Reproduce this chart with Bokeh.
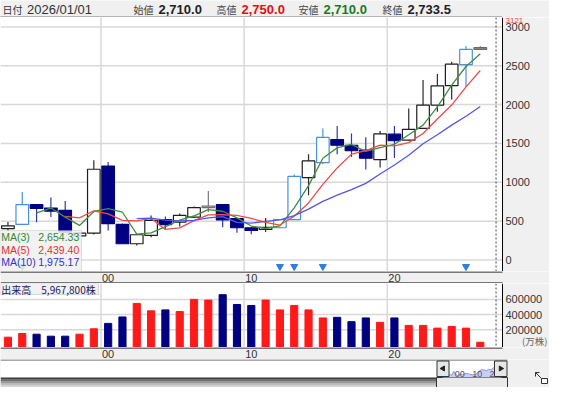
import pandas as pd
from bokeh.plotting import figure
from bokeh.layouts import column
from bokeh.models import Range1d, Span, BoxAnnotation, ColumnDataSource
from bokeh.core.properties import value
from bokeh.embed import file_html
from bokeh.resources import INLINE

# ---------------- data ----------------
header_date = "2026/01/01"
opens = [405, 458, 712, 668, 639, 310, 346, 1210, 458, 209, 316, 519, 488, 552, 674, 712, 532, 415, 394, 415,
         519, 1061, 1254, 1551, 1477, 1413, 1293, 1619, 1542, 1693, 1994, 2243, 2515, 2710]
highs = [490, 875, 720, 803, 760, 360, 1284, 1262, 470, 330, 574, 561, 600, 690, 888, 720, 540, 420, 540, 525,
         1099, 1361, 1693, 1723, 1628, 1580, 1660, 1723, 1951, 2316, 2394, 2552, 2755, 2750]
lows = [380, 450, 485, 552, 350, 300, 329, 381, 205, 187, 294, 390, 430, 540, 617, 420, 350, 330, 359, 410,
        515, 832, 1232, 1361, 1326, 1164, 1190, 1314, 1535, 1690, 1907, 2067, 2230, 2710]
closes = [440, 712, 665, 630, 360, 345, 1168, 467, 209, 325, 510, 454, 574, 674, 694, 515, 415, 381, 420, 519,
          1077, 1275, 1577, 1477, 1406, 1310, 1622, 1535, 1681.7, 1992, 2242, 2520, 2709.5, 2733.5]
kinds = ["up", "mark", "down", "down", "down", "up", "up", "down", "down", "up",
         "up", "down", "up", "up", "gray", "down", "down", "down", "up", "mark",
         "mark", "up", "mark", "down", "down", "down", "up", "down", "up", "up",
         "up", "up", "mark", "doji"]
volumes = [103000, 151000, 142000, 116000, 116000, 142000, 213000, 284000, 369000, 547000,
           449000, 462000, 440000, 600000, 591000, 662000, 533000, 520000, 591000, 462000,
           520000, 462000, 356000, 364000, 307000, 356000, 298000, 356000, 258000, 258000,
           222000, 244000, 222000, 36000]
x_ticks = [7, 17, 27]
x_tick_labels = ["00", "10", "20"]
price_ticks = [0, 500, 1000, 1500, 2000, 2500, 3000]
price_max = 3121
vol_ticks = [200000, 400000, 600000]
vol_title = "出来高"
vol_total_text = "5,967,800株"
vol_unit = "(万株)"
ma_periods = [3, 5, 10]
ma_texts = ["2,654.33", "2,439.40", "1,975.17"]
header_names = ["始値", "高値", "安値", "終値"]

# ---------------- layout / style ----------------
W = 549
FRAME_W = 502                      # width of the plotting area left of the axis line
X0, AXIS_X = -0.52, 34.55          # data extent of the plotting area
PX = FRAME_W / (AXIS_X - X0)       # pixels per candle
XEND = X0 + W / PX
H_HEAD, H_MAIN, H_BAND, H_VOL, H_NAV = 17, 254, 12, 64, 28
GRAY = "#f0f0f0"
GRID = "#d8d8d8"
NUM_FONT = "Liberation Sans"
JP_FONT = "Noto Sans CJK JP"
MA_LINE = ["#3f8f3f", "#f04a4a", "#5555e8"]
MA_TEXT = ["#2f8a2f", "#e83030", "#3333c8"]
UP_VOL, DOWN_VOL = "#ff1a1a", "#000080"
body_fill = {"up": "white", "down": "#000080", "mark": "white", "gray": "white", "doji": "#9c9c9c"}
body_line = {"up": "#1e1e1e", "down": "#000080", "mark": "#4a8fe0", "gray": "#6e6e6e", "doji": "#6a6a6a"}
wick_col = {"up": "#2a2a2a", "down": "#2e3aa8", "mark": "#4a8fe0", "gray": "#7a7a7a", "doji": "#6a6a6a"}

n = len(closes)
idx = list(range(n))
xr = Range1d(X0, XEND)
MAIN_Y = (-148, price_max)
VOL_Y = (-33000, 809000)
DOT_X = 34.1
MARK_LEVEL = -84


def fig(height, x_range, y_range, bg):
    p = figure(width=W, height=height, x_range=x_range, y_range=Range1d(*y_range),
               output_backend="svg", toolbar_location=None,
               x_axis_location=None, y_axis_location=None, min_border=0,
               background_fill_color=bg, border_fill_color=bg, outline_line_color=None)
    p.grid.visible = False
    return p


def panel(height, y_range, ticks, labels):
    p = fig(height, xr, y_range, "white")
    # gray axis area right of the axis line
    p.add_layout(BoxAnnotation(left=AXIS_X, fill_color=GRAY, fill_alpha=1, line_color=None, level="underlay"))
    for t in x_ticks:
        p.add_layout(Span(location=t - 0.5, dimension="height", line_color=GRID, line_width=1.5, level="underlay"))
    p.segment(x0=[X0] * len(ticks), x1=[AXIS_X] * len(ticks), y0=ticks, y1=ticks,
              line_color=GRID, line_width=1.5)
    p.add_layout(Span(location=DOT_X, dimension="height", line_color="#444444", line_width=1, line_dash="2 2"))
    p.add_layout(Span(location=AXIS_X, dimension="height", line_color="black", line_width=1))
    p.text(x=[AXIS_X] * len(ticks), y=ticks, text=labels, x_offset=3, text_align="left",
           text_baseline="middle", text_font=value(NUM_FONT), text_font_size="11px", text_color="#333333")
    return p


# ---------------- header ----------------
head = fig(H_HEAD, Range1d(0, W), (0, H_HEAD), GRAY)
head.segment(x0=[0], y0=[0.5], x1=[FRAME_W], y1=[0.5], line_color="black", line_width=1, line_dash="1 1")
header_vals = [opens[-1], highs[-1], lows[-1], closes[-1]]
header_cols = ["#222222", "#e01010", "#1a7a1a", "#222222"]
name_x = [133, 216, 298, 382]
yc = H_HEAD - 8.5
head.text(x=[2], y=[yc], text=["日付"], text_font=value(JP_FONT), text_font_size="10px",
          text_color="#333333", text_baseline="middle")
head.text(x=[26.5], y=[yc], text=[header_date], text_font=value(NUM_FONT), text_font_size="13px",
          text_color="#333333", text_baseline="middle")
head.text(x=name_x, y=[yc] * 4, text=header_names, text_font=value(JP_FONT), text_font_size="10px",
          text_color="#444444", text_baseline="middle")
head.text(x=[x + 25 for x in name_x], y=[yc] * 4, text=[f"{v:,.1f}" for v in header_vals],
          text_font=value(NUM_FONT), text_font_size="13px", text_font_style="bold",
          text_color=header_cols, text_baseline="middle")

# ---------------- main (candles) ----------------
main = panel(H_MAIN, MAIN_Y, price_ticks, [str(t) for t in price_ticks])

src = ColumnDataSource(dict(
    x=idx, o=opens, h=highs, l=lows, c=closes,
    top=[max(a, b) for a, b in zip(opens, closes)],
    bot=[min(a, b) for a, b in zip(opens, closes)],
    fill=[body_fill[k] for k in kinds],
    line=[body_line[k] for k in kinds],
    wick=[wick_col[k] for k in kinds],
))
main.segment(x0="x", y0="h", x1="x", y1="l", line_color="wick", line_width=1.2, source=src)
main.vbar(x="x", top="top", bottom="bot", width=0.88, fill_color="fill", line_color="line",
          line_width=1.2, source=src)

cs = pd.Series(closes, dtype=float)
for per, col in zip(ma_periods, MA_LINE):
    ma = cs.rolling(per).mean()
    xs = [i for i in idx if pd.notna(ma[i])]
    main.line(xs, [ma[i] for i in xs], line_color=col, line_width=1.3)

mark_x = [i for i, k in enumerate(kinds) if k == "mark"]
main.scatter(x=mark_x, y=[MARK_LEVEL] * len(mark_x), marker="inverted_triangle", size=7,
             fill_color="#2f7fe0", line_color="#2f7fe0")

# MA legend box
main.add_layout(BoxAnnotation(left=X0, right=5.14, bottom=MAIN_Y[0], top=381,
                              fill_color=GRAY, fill_alpha=0.85, line_color="#9a9a9a", line_width=1))
leg_y = [294, 129, -32]
main.text(x=[X0 + 0.05] * 3, y=leg_y, text=[f"MA({p})" for p in ma_periods], text_font=value(NUM_FONT),
          text_font_size="10.5px", text_color=MA_TEXT, text_baseline="middle", level="overlay")
main.text(x=[4.98] * 3, y=leg_y, text=ma_texts, text_font=value(NUM_FONT), text_font_size="10.5px",
          text_color=MA_TEXT, text_baseline="middle", text_align="right", level="overlay")
main.text(x=[AXIS_X], y=[price_max], text=[str(price_max)], x_offset=3, text_font=value(NUM_FONT),
          text_font_size="8px", text_color="#e05030", text_baseline="top")


# ---------------- bands ----------------
def band(bottom_line):
    b = fig(H_BAND, xr, (0, H_BAND), GRAY)
    b.text(x=[t - 0.5 for t in x_ticks], y=[H_BAND / 2] * len(x_ticks), text=x_tick_labels,
           x_offset=1, text_align="left", text_baseline="middle", text_font=value(NUM_FONT),
           text_font_size="11px", text_color="#333333")
    b.segment(x0=[X0], x1=[AXIS_X], y0=[H_BAND - 0.5], y1=[H_BAND - 0.5], line_color="black", line_width=1)
    if bottom_line:
        b.segment(x0=[X0], x1=[AXIS_X], y0=[0.5], y1=[0.5], line_color="black", line_width=1)
    return b


band1 = band(True)
band2 = band(False)

# ---------------- volume ----------------
vol = panel(H_VOL, VOL_Y, vol_ticks, [str(t) for t in vol_ticks])
vcols = [UP_VOL if c >= o else DOWN_VOL for o, c in zip(opens, closes)]
vol.vbar(x=idx, top=volumes, bottom=VOL_Y[0], width=0.5, fill_color=vcols, line_color=vcols)
vol.add_layout(BoxAnnotation(left=X0, right=6.33, bottom=664000, top=VOL_Y[1],
                             fill_color=GRAY, fill_alpha=0.9, line_color="#8a8a8a", line_width=1))
vol.text(x=[X0 + 0.05, 2.33], y=[730000] * 2, text=[vol_title, vol_total_text], text_font=value(JP_FONT),
         text_font_size="10px", text_color="#1a1a60", text_baseline="middle", level="overlay")
vol.text(x=[XEND], y=[46000], text=[vol_unit], x_offset=-2, text_font=value(JP_FONT),
         text_font_size="9.5px", text_color="#666666", text_baseline="middle", text_align="right")

# ---------------- navigator ----------------
nav = fig(H_NAV, Range1d(0, W), (0, H_NAV), GRAY)
NAV_R = FRAME_W + 5
TH_L, TH_R = FRAME_W - 60, FRAME_W - 1
SB_H = 10
nav.quad(left=[0], right=[NAV_R], bottom=[SB_H], top=[H_NAV], fill_color="white", line_color=None)
nav.segment(x0=[0], y0=[H_NAV - 0.5], x1=[NAV_R], y1=[H_NAV - 0.5], line_color="#505050", line_width=1)
shades = ["#d6d6d6", "#bdbdbd", "#9a9a9a", "#6e6e6e", "#3c3c3c"]
for k, sh in enumerate(shades):
    nav.quad(left=[0], right=[TH_L - 6], bottom=[k * 2], top=[k * 2 + 2], fill_color=sh, line_color=None)
nav.quad(left=[TH_L - 6], right=[NAV_R], bottom=[0], top=[SB_H], fill_color="#e9e9e9",
         line_color="#333333", line_width=1)
# thumbnail of closes
step = (TH_R - TH_L) / n
cmin, cmax = min(closes), max(closes)
tx = [TH_L + (i + 0.5) * step for i in idx]
ty = [SB_H + 2 + (c - cmin) / (cmax - cmin) * 11 for c in closes]
nav.varea(x=tx, y1=[SB_H] * n, y2=ty, fill_color="#c9cff4")
nav.line(tx, ty, line_color="#8a96e6", line_width=1)
nav.text(x=[TH_L + (t - 0.5) * step for t in x_ticks], y=[SB_H + 4] * len(x_ticks), text=["00", "10", "2"],
         x_offset=1, text_align="left", text_baseline="middle", text_font=value(NUM_FONT),
         text_font_size="9px", text_color="#555555")
nav.segment(x0=[TH_L, TH_R], y0=[SB_H, SB_H], x1=[TH_L, TH_R], y1=[H_NAV, H_NAV],
            line_color="#3cb4c8", line_width=1)
nav.quad(left=[TH_L - 5.5, TH_R - 7], right=[TH_L + 6.5, TH_R + 5.5], bottom=[SB_H + 1, SB_H + 1],
         top=[H_NAV - 1.5, H_NAV - 1.5], fill_color="#e6e6e6", line_color="#333333", line_width=1)
nav.scatter(x=[TH_L + 0.5, TH_R - 0.75], y=[(SB_H + H_NAV) / 2] * 2, marker="triangle", size=5,
            angle=[1.5708, -1.5708], fill_color="#222222", line_color="#222222")
# resize icon
ix = W - 15
nav.quad(left=[ix + 7], right=[ix + 13], bottom=[4], top=[9], fill_color="white", line_color="#333333")
nav.segment(x0=[ix + 1, ix + 1, ix + 1], y0=[15, 15, 15], x1=[ix + 7, ix + 1, ix + 5], y1=[9, 11, 15],
            line_color="#333333", line_width=1)

layout = column(head, main, band1, vol, band2, nav, spacing=0)
open("out.html", "w").write(file_html(layout, INLINE))
